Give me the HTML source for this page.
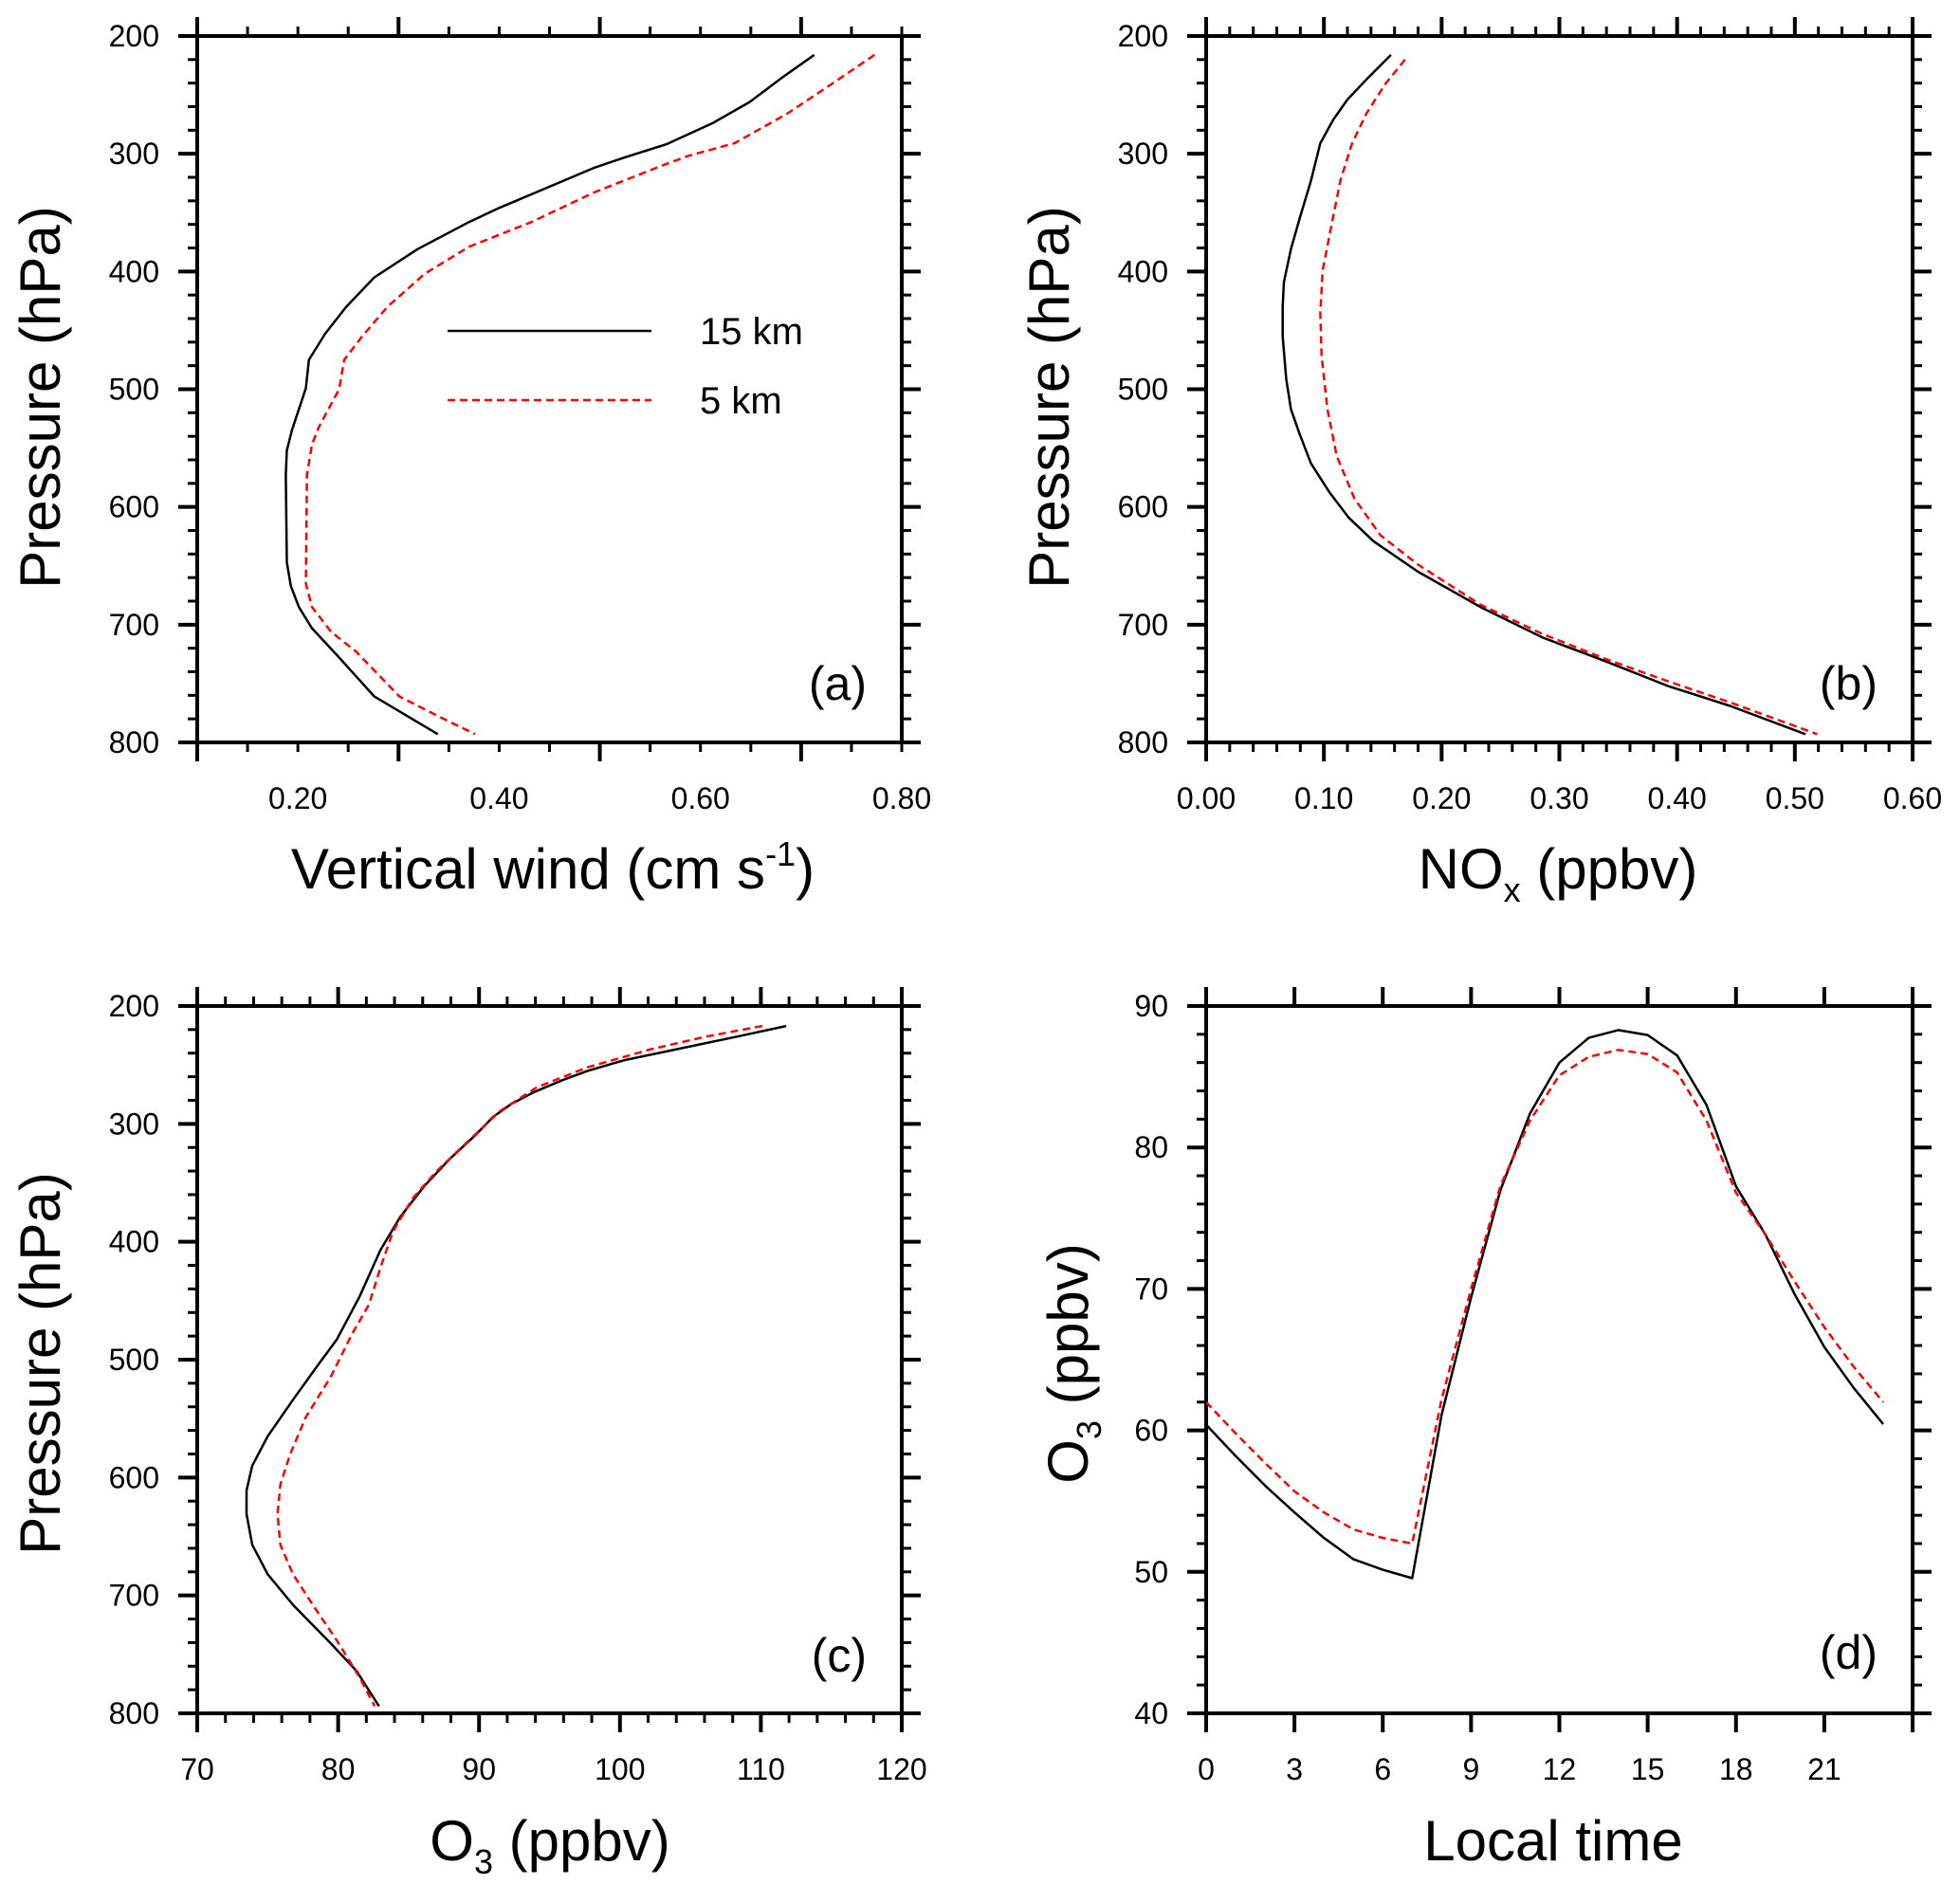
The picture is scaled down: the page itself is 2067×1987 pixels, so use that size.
<!DOCTYPE html>
<html><head><meta charset="utf-8"><style>
html,body{margin:0;padding:0;background:#fff}
svg{display:block;font-family:"Liberation Sans",Arial,sans-serif}
</style></head><body>
<svg id="fig" width="2067" height="1987" viewBox="0 0 2067 1987" xmlns="http://www.w3.org/2000/svg"></svg>
<script>
// Panel (a) vertical wind
const aBlackX=[0.713,0.68,0.649,0.612,0.566,0.525,0.494,0.45,0.40,0.37,0.319,0.276,0.248,0.227,0.211,0.208,0.194,0.189,0.188,0.189,0.193,0.201,0.214,0.239,0.276,0.339];
const aBlackP=[216,236,256,274,292,303,312,328,346,358,381,405,430,453,475,499,535,552,573,647,667,685,703,726,761,793];
const aRedX=[0.773,0.73,0.686,0.634,0.587,0.562,0.494,0.432,0.37,0.326,0.289,0.264,0.246,0.241,0.221,0.214,0.209,0.208,0.214,0.233,0.258,0.301,0.345,0.376];
const aRedP=[216,241,266,291,302,310,333,358,379,402,430,455,475,500,532,547,573,665,685,706,723,761,780,793];
const aXTicks=["0.20","0.40","0.60","0.80"];
// Panel (b) NOx
const bBlackX=[0.157,0.137,0.12,0.108,0.097,0.089,0.08,0.072,0.066,0.065,0.065,0.068,0.072,0.079,0.089,0.105,0.121,0.142,0.18,0.233,0.286,0.339,0.392,0.445,0.509];
const bBlackP=[216,236,254,271,291,323,353,381,409,430,455,491,517,537,563,588,609,629,655,685,711,731,752,769,793];
const bRedX=[0.169,0.152,0.136,0.124,0.114,0.106,0.099,0.097,0.098,0.103,0.111,0.126,0.148,0.18,0.233,0.286,0.339,0.392,0.445,0.519];
const bRedP=[220,241,266,291,323,363,399,435,471,517,557,593,624,649,683,708,729,748,766,793];
const bXTicks=["0.00","0.10","0.20","0.30","0.40","0.50","0.60"];
// Panel (c) O3 profile
const cBlackX=[111.8,108.3,103.9,100.3,97.7,95.9,93.9,92.3,91,89.7,87.9,86.1,84.4,83,81.5,79.9,78.6,76.8,75,73.9,73.5,73.5,73.9,75,76.8,79.5,81.3,82.9];
const cBlackP=[217,226,237,246,255,263,273,283,294,310,330,353,379,407,447,483,504,534,565,590,611,631,657,682,708,741,764,794];
const cRedX=[110.1,106.1,102.1,97.7,94.1,91.5,89.2,87,85.3,83.9,83,82.2,81,79.5,77.7,76.6,75.9,75.7,75.9,76.8,78.2,79.9,81.5,82.6];
const cRedP=[217,226,237,252,269,289,315,340,363,391,422,453,478,514,549,580,606,631,657,682,708,738,769,794];
const cXTicks=["70","80","90","100","110","120"];
// Panel (d) diurnal O3
const dHours=[0,1,2,3,4,5,6,7,8,9,10,11,12,13,14,15,16,17,18,19,20,21,22,23];
const dBlack=[60.4,58.2,56.1,54.2,52.4,50.9,50.15,49.55,61.1,69.4,77.0,82.4,86.0,87.75,88.3,87.95,86.5,83.0,77.25,73.85,69.6,65.9,63.0,60.45];
const dRed=[62.0,59.8,57.7,55.7,54.2,53.0,52.4,52.0,62.2,70.0,77.3,81.9,85.1,86.4,86.9,86.6,85.3,81.9,76.8,73.85,70.5,67.3,64.5,62.0];
const dXTicks=["0","3","6","9","12","15","18","21"];
const pTicks=["200","300","400","500","600","700","800"];
const dYTicks=["40","50","60","70","80","90"];

const NS="http://www.w3.org/2000/svg";
const svg=document.getElementById('fig');
function mk(tag,attrs,parent){const e=document.createElementNS(NS,tag);for(const k in attrs)e.setAttribute(k,attrs[k]);(parent||svg).appendChild(e);return e;}

function panel(o){
  const g=mk('g',{});
  
  
  const X=v=>o.L+(v-o.x0)/(o.x1-o.x0)*(o.R-o.L);
  const Y=v=>o.T+(v-o.y0)/(o.y1-o.y0)*(o.B-o.T);
  const tk=mk('g',{stroke:'#000','stroke-width':3},g);
  
  
  for(let v=o.y0;v<=o.y1+1e-9;v+=o.yminor){const y=Y(v);const maj=Math.abs(((v-o.y0)/o.ymajor)-Math.round((v-o.y0)/o.ymajor))<1e-6;const len=maj?20:10;
    mk('line',{x1:o.L-len,y1:y,x2:o.L,y2:y,'stroke-width':maj?4:3},tk);mk('line',{x1:o.R,y1:y,x2:o.R+len,y2:y,'stroke-width':maj?4:3},tk);}
  for(let v=o.xs;v<=o.x1+1e-9;v+=o.xminor){const x=X(v);const maj=Math.abs(((v-o.xs)/o.xmajor)-Math.round((v-o.xs)/o.xmajor))<1e-6;const len=maj?20:10;
    mk('line',{x1:x,y1:o.B,x2:x,y2:o.B+len,'stroke-width':maj?4:3},tk);mk('line',{x1:x,y1:o.T-len,x2:x,y2:o.T,'stroke-width':maj?4:3},tk);}
  const fr=mk('rect',{x:o.L,y:o.T,width:o.R-o.L,height:o.B-o.T,fill:'none',stroke:'#000','stroke-width':4},g);
  
  
  o.yLabels.forEach((s,i)=>{const t=mk('text',{x:o.L-40,y:Y(o.y0+i*o.ymajor)+11,'text-anchor':'end','font-size':32},g);t.textContent=s;
    
    });
  o.xLabels.forEach((s,i)=>{const t=mk('text',{x:X(o.xlab0+i*o.xmajor),y:o.B+70,'text-anchor':'middle','font-size':32},g);t.textContent=s;
    
    });
  function line(xs,ys,red,nm){const pts=xs.map((v,i)=>X(v).toFixed(1)+','+Y(ys[i]).toFixed(1)).join(' ');
    const p=mk('polyline',{points:pts,fill:'none',stroke:red?'#ff0000':'#000','stroke-width':2.5,'stroke-dasharray':red?'8 5':'none','stroke-linejoin':'round'},g);
    
    }
  o.series.forEach(s=>line(s[0],s[1],s[2],s[3]));
  const pl=mk('text',{x:o.R-37,y:o.plY,'text-anchor':'end','font-size':50},g);pl.textContent=o.plabel;
  
  
  return g;
}
panel({name:'panel-a',L:208,R:951,T:38,B:783,x0:0.1,x1:0.8,xs:0.1,xminor:0.05,xmajor:0.2,xlab0:0.2,y0:200,y1:800,yminor:20,ymajor:100,
  yLabels:pTicks,xLabels:aXTicks,plabel:'(a)',plY:738,
  series:[[aBlackX,aBlackP,false,'line-15km'],[aRedX,aRedP,true,'line-5km']]});
panel({name:'panel-b',L:1272,R:2017,T:38,B:783,x0:0,x1:0.6,xs:0,xminor:0.02,xmajor:0.1,xlab0:0,y0:200,y1:800,yminor:20,ymajor:100,
  yLabels:pTicks,xLabels:bXTicks,plabel:'(b)',plY:738,
  series:[[bBlackX,bBlackP,false,'line-15km'],[bRedX,bRedP,true,'line-5km']]});
panel({name:'panel-c',L:208,R:951,T:1061,B:1807,x0:70,x1:120,xs:70,xminor:2,xmajor:10,xlab0:70,y0:200,y1:800,yminor:20,ymajor:100,
  yLabels:pTicks,xLabels:cXTicks,plabel:'(c)',plY:1763,
  series:[[cBlackX,cBlackP,false,'line-15km'],[cRedX,cRedP,true,'line-5km']]});
panel({name:'panel-d',L:1272,R:2017,T:1061,B:1807,x0:0,x1:24,xs:0,xminor:3,xmajor:3,xlab0:0,y0:90,y1:40,yminor:-2,ymajor:-10,
  yLabels:dYTicks.slice().reverse(),xLabels:dXTicks,plabel:'(d)',plY:1760,
  series:[[dHours,dBlack,false,'line-15km'],[dHours,dRed,true,'line-5km']]});
</script>
<script>
(function(){
  const NS="http://www.w3.org/2000/svg";const svg=document.getElementById('fig');
  const g=document.createElementNS(NS,'g');
  
  
  svg.appendChild(g);
  for(let v=40;v<=90;v+=2){const y=1807-(v-40)/50*(1807-1061);const maj=v%10===0;const len=maj?20:10;
    [[1272-len,1272],[2017,2017+len]].forEach(a=>{const l=document.createElementNS(NS,'line');
      l.setAttribute('x1',a[0]);l.setAttribute('x2',a[1]);l.setAttribute('y1',y);l.setAttribute('y2',y);
      l.setAttribute('stroke','#000');l.setAttribute('stroke-width',maj?4:3);g.appendChild(l);});}
})();
</script>
<svg style="position:absolute;left:0;top:0" width="2067" height="1987">
  <g font-family="Liberation Sans, Arial, sans-serif" fill="#000">
    <text transform="translate(63,419) rotate(-90)" text-anchor="middle" font-size="60">Pressure (hPa)</text>
    <text x="583" y="937" text-anchor="middle" font-size="60">Vertical wind (cm s<tspan dy="-24" font-size="36">-1</tspan><tspan dy="24">)</tspan></text>
    <text transform="translate(1127,419) rotate(-90)" text-anchor="middle" font-size="60">Pressure (hPa)</text>
    <text x="1643" y="937" text-anchor="middle" font-size="60">NO<tspan dy="14" font-size="36">x</tspan><tspan dy="-14"> (ppbv)</tspan></text>
    <text transform="translate(63,1438) rotate(-90)" text-anchor="middle" font-size="60">Pressure (hPa)</text>
    <text x="580" y="1962" text-anchor="middle" font-size="60">O<tspan dy="14" font-size="36">3</tspan><tspan dy="-14"> (ppbv)</tspan></text>
    <text transform="translate(1147,1438) rotate(-90)" text-anchor="middle" font-size="60">O<tspan dy="14" font-size="36">3</tspan><tspan dy="-14">  (ppbv)</tspan></text>
    <text x="1638" y="1962" text-anchor="middle" font-size="60">Local time</text>
    <g>
      <line x1="472" y1="349" x2="687" y2="349" stroke="#000" stroke-width="2.5"/>
      <text x="738" y="363" font-size="40">15 km</text>
      <line x1="472" y1="422" x2="687" y2="422" stroke="#f00" stroke-width="2.5" stroke-dasharray="8 5"/>
      <text x="738" y="436" font-size="40">5 km</text>
    </g>
  </g>
</svg>
</body></html>
